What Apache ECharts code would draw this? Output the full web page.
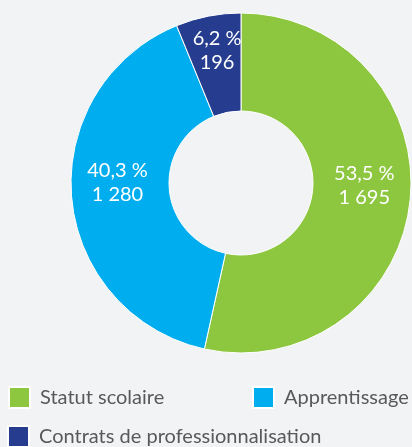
<!DOCTYPE html>
<html>
<head>
<meta charset="utf-8">
<script src="https://cdn.jsdelivr.net/npm/echarts@6/dist/echarts.min.js"></script>
<style>
  html, body { margin: 0; padding: 0; background: #f2f3f5; }
  #chart { width: 412px; height: 447px; }
</style>
</head>
<body>
<div id="chart"></div>
<script>
// données du graphique
var categories = ['Statut scolaire', 'Apprentissage', 'Contrats de professionnalisation'];
var effectifs = [1695, 1280, 196];
var pourcentages = ['53,5 %', '40,3 %', '6,2 %'];
var effectifsTexte = ['1 695', '1 280', '196'];
var couleurs = ['#8dc63f', '#00aeef', '#263d8f'];

var chart = echarts.init(document.getElementById('chart'));

var pieData = categories.map(function (name, i) {
  return { name: name, value: effectifs[i], itemStyle: { color: couleurs[i] } };
});

var legendText = { fontFamily: 'Lato', fontSize: 20, color: '#58595b', padding: [0, 0, 0, 5] };
function legendAt(i, left, top) {
  return {
    data: [categories[i]], left: left, top: top, padding: 0,
    itemWidth: 21, itemHeight: 21, icon: 'rect',
    textStyle: legendText, selectedMode: false
  };
}

chart.setOption({
  backgroundColor: '#f2f3f5',
  legend: [legendAt(0, 8, 386), legendAt(1, 252, 386), legendAt(2, 7, 425)],
  series: [{
    type: 'pie',
    center: [241, 183],
    radius: [72, 170],
    startAngle: 90,
    clockwise: true,
    silent: true,
    itemStyle: { borderColor: '#ffffff', borderWidth: 1 },
    label: {
      position: 'inside',
      color: '#ffffff',
      fontFamily: 'Lato',
      fontSize: 20,
      lineHeight: 24,
      offset: [0, -11],
      formatter: function (p) {
        return pourcentages[p.dataIndex] + '\n' + effectifsTexte[p.dataIndex];
      }
    },
    labelLine: { show: false },
    data: pieData
  }]
});
</script>
</body>
</html>
